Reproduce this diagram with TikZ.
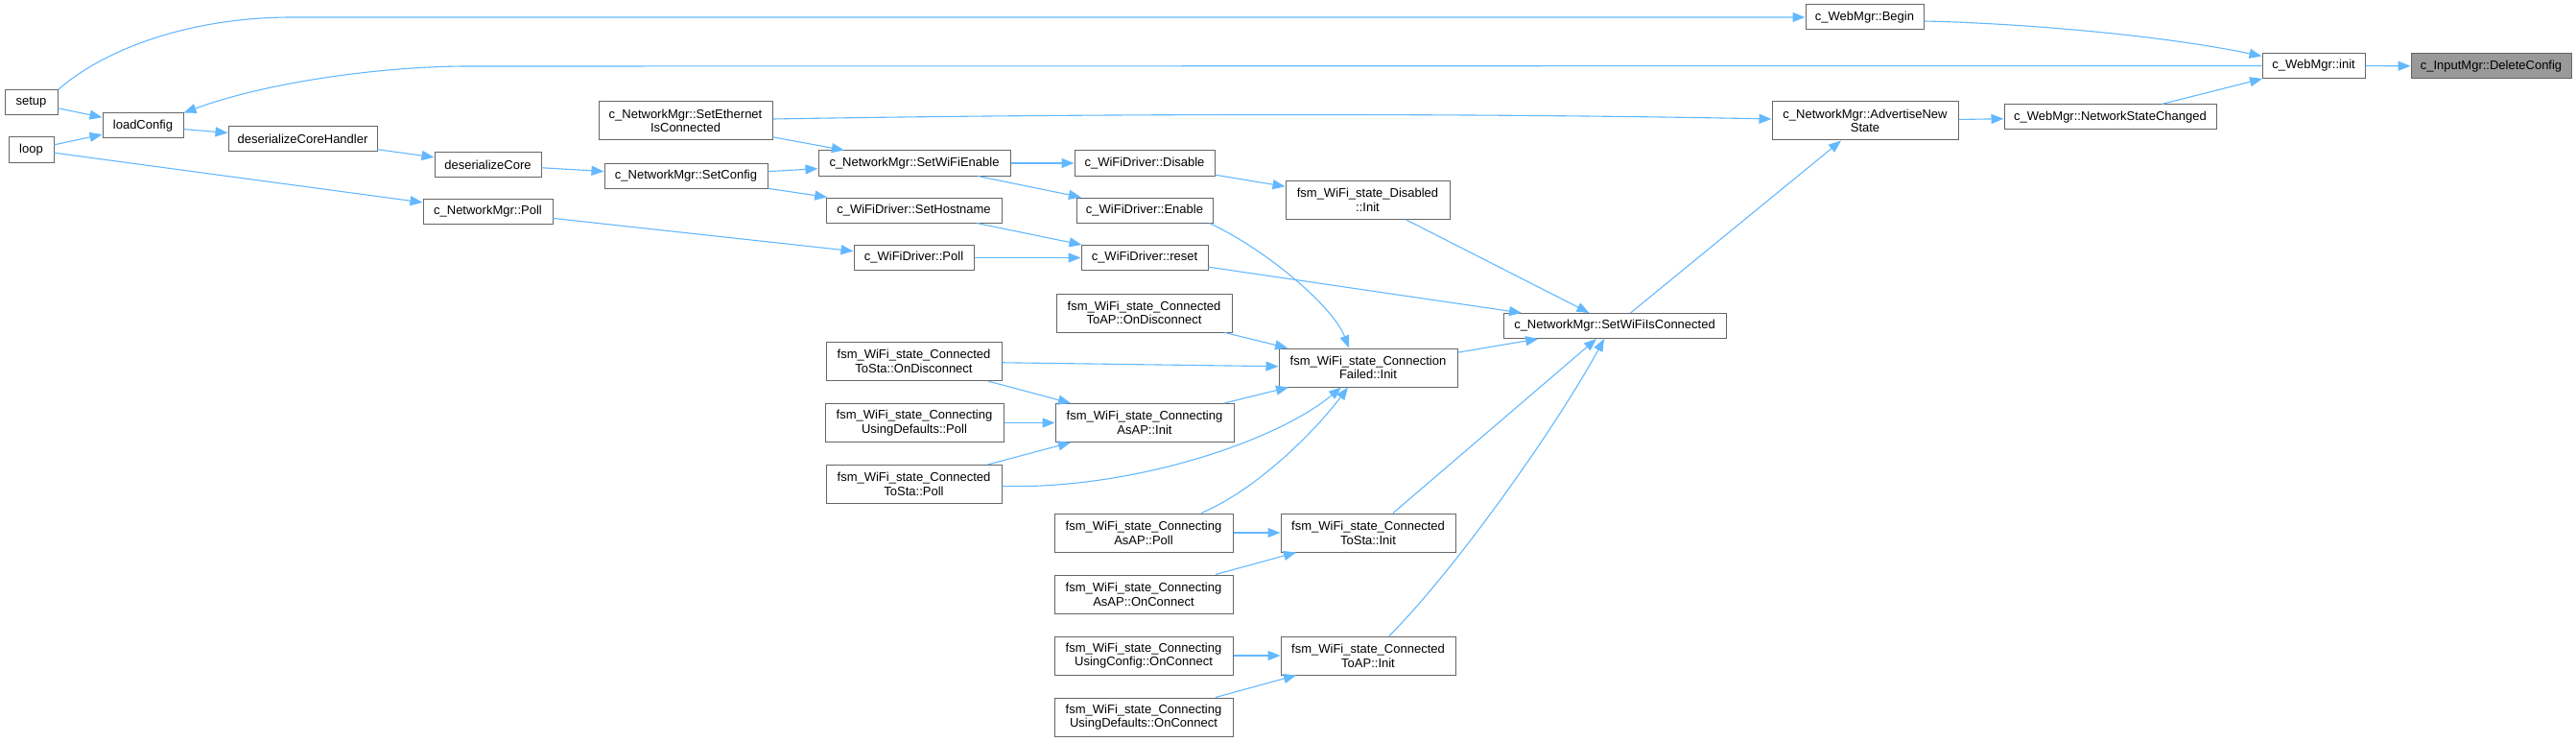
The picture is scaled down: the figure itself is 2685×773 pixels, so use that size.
\documentclass[tikz,border=0pt]{standalone}
\usepackage{fontspec}
\setmainfont{Liberation Sans}
\usetikzlibrary{arrows.meta}
\definecolor{edgeblue}{HTML}{63B8FF}
\definecolor{boxgray}{HTML}{666666}
\definecolor{rootfill}{HTML}{999999}
\tikzset{
  box/.style={draw=boxgray, fill=white, line width=1pt, inner sep=0pt, align=center,
    font=\fontsize{13}{14.7}\selectfont},
  one/.style={minimum height=26pt},
  two/.style={minimum height=40pt},
  conn/.style={draw=edgeblue, line width=1.1pt, -{Triangle[length=13pt,width=10pt]}},
}
\begin{document}
\begin{tikzpicture}[x=1pt,y=-1pt]
\useasboundingbox (0,0) rectangle (2685,773);
% nodes
\node[box,one,minimum width=55pt] (setup) at (32.5,107) {setup};
\node[box,one,minimum width=47pt] (loop) at (32.5,156) {loop};
\node[box,one,minimum width=84pt] (loadConfig) at (149,131) {loadConfig};
\node[box,one,minimum width=155pt] (dCH) at (315.5,145) {deserializeCoreHandler};
\node[box,one,minimum width=111pt] (dCore) at (508.5,171.5) {deserializeCore};
\node[box,one,minimum width=170pt] (SetConfig) at (715,183.5) {c\_NetworkMgr::SetConfig};
\node[box,two,minimum width=181pt] (SetEth) at (714.5,126) {c\_NetworkMgr::SetEthernet\\IsConnected};
\node[box,one,minimum width=135pt] (NMPoll) at (508.5,220) {c\_NetworkMgr::Poll};
\node[box,one,minimum width=200pt] (SetWiFiEnable) at (953,170) {c\_NetworkMgr::SetWiFiEnable};
\node[box,one,minimum width=146pt] (Disable) at (1193,170) {c\_WiFiDriver::Disable};
\node[box,one,minimum width=183pt] (SetHostname) at (952.5,219) {c\_WiFiDriver::SetHostname};
\node[box,one,minimum width=142pt] (Enable) at (1193,219) {c\_WiFiDriver::Enable};
\node[box,two,minimum width=171pt] (DisInit) at (1425.5,208.5) {fsm\_WiFi\_state\_Disabled\\::Init};
\node[box,one,minimum width=125pt] (WDPoll) at (952.5,268.5) {c\_WiFiDriver::Poll};
\node[box,one,minimum width=132pt] (reset) at (1193,268.5) {c\_WiFiDriver::reset};
\node[box,two,minimum width=183pt] (ToAPOnDis) at (1192.5,326) {fsm\_WiFi\_state\_Connected\\ToAP::OnDisconnect};
\node[box,two,minimum width=183pt] (ToStaOnDis) at (952.5,376.5) {fsm\_WiFi\_state\_Connected\\ToSta::OnDisconnect};
\node[box,two,minimum width=186pt] (CFInit) at (1426,383) {fsm\_WiFi\_state\_Connection\\Failed::Init};
\node[box,one,minimum width=232pt] (SWIC) at (1683,339.5) {c\_NetworkMgr::SetWiFiIsConnected};
\node[box,two,minimum width=186pt] (UDPoll) at (953,440.5) {fsm\_WiFi\_state\_Connecting\\UsingDefaults::Poll};
\node[box,two,minimum width=186pt] (AsAPInit) at (1193,440.5) {fsm\_WiFi\_state\_Connecting\\AsAP::Init};
\node[box,two,minimum width=183pt] (ToStaPoll) at (952.5,504.5) {fsm\_WiFi\_state\_Connected\\ToSta::Poll};
\node[box,two,minimum width=186pt] (AsAPPoll) at (1192,555) {fsm\_WiFi\_state\_Connecting\\AsAP::Poll};
\node[box,two,minimum width=182pt] (ToStaInit) at (1426,555) {fsm\_WiFi\_state\_Connected\\ToSta::Init};
\node[box,two,minimum width=186pt] (AsAPOnConn) at (1192,619) {fsm\_WiFi\_state\_Connecting\\AsAP::OnConnect};
\node[box,two,minimum width=186pt] (UCOnConn) at (1192,683) {fsm\_WiFi\_state\_Connecting\\UsingConfig::OnConnect};
\node[box,two,minimum width=182pt] (ToAPInit) at (1426,683) {fsm\_WiFi\_state\_Connected\\ToAP::Init};
\node[box,two,minimum width=186pt] (UDOnConn) at (1192,747) {fsm\_WiFi\_state\_Connecting\\UsingDefaults::OnConnect};
\node[box,two,minimum width=194pt] (Advertise) at (1944,126) {c\_NetworkMgr::AdvertiseNew\\State};
\node[box,one,minimum width=221pt] (NSC) at (2199.5,122) {c\_WebMgr::NetworkStateChanged};
\node[box,one,minimum width=123pt] (Begin) at (1943.5,18) {c\_WebMgr::Begin};
\node[box,one,minimum width=107pt] (init) at (2411.5,68.5) {c\_WebMgr::init};
\node[box,one,minimum width=167pt,fill=rootfill] (DeleteConfig) at (2596.5,69) {c\_InputMgr::DeleteConfig};
% edges
\draw[conn] (init) -- (DeleteConfig);
\draw[conn] ([yshift=-4pt]Begin.east) .. controls (2100,24) and (2250,36) .. ([yshift=10pt]init.west);
\draw[conn] (NSC) -- (init);
\draw[conn] (Advertise) -- (NSC);
\draw[conn] (init.west) -- (488,69) .. controls (400,69) and (280,85) .. (loadConfig.north east);
\draw[conn] (setup.north east) .. controls (110,50) and (200,18) .. (304,18) -- (Begin.west);
\draw[conn] (setup) -- (loadConfig);
\draw[conn] (loop) -- (loadConfig);
\draw[conn] (loop) -- (NMPoll);
\draw[conn] (loadConfig) -- (dCH);
\draw[conn] (dCH) -- (dCore);
\draw[conn] (dCore) -- (SetConfig);
\draw[conn] (SetConfig) -- (SetWiFiEnable);
\draw[conn] (SetConfig) -- (SetHostname);
\draw[conn] (SetEth) -- (SetWiFiEnable);
\draw[conn] ([yshift=2pt]SetEth.east) .. controls (1150,118) and (1550,118) .. ([yshift=2pt]Advertise.west);
\draw[conn] (SetWiFiEnable) -- (Disable);
\draw[conn] (SetWiFiEnable) -- (Enable);
\draw[conn] (Disable) -- (DisInit);
\draw[conn] (SetHostname) -- (reset);
\draw[conn] (NMPoll) -- (WDPoll);
\draw[conn] (WDPoll) -- (reset);
\draw[conn] ([xshift=-4pt]Enable.south east) .. controls (1320,260) and (1390,320) .. ([xshift=-20pt]CFInit.north);
\draw[conn] (DisInit) -- (SWIC);
\draw[conn] (reset) -- ([xshift=-97pt]SWIC.north);
\draw[conn] (SWIC) -- (Advertise);
\draw[conn] (ToAPOnDis) -- (CFInit);
\draw[conn] (ToStaOnDis) -- (CFInit);
\draw[conn] (ToStaOnDis) -- (AsAPInit);
\draw[conn] (UDPoll) -- (AsAPInit);
\draw[conn] (ToStaPoll) -- (AsAPInit);
\draw[conn] (AsAPInit) -- (CFInit);
\draw[conn] ([yshift=-2pt]ToStaPoll.east) .. controls (1180,510) and (1330,460) .. ([xshift=-28pt]CFInit.south);
\draw[conn] ([xshift=60pt]AsAPPoll.north) .. controls (1310,510) and (1370,450) .. ([xshift=-21pt]CFInit.south);
\draw[conn] (CFInit) -- (SWIC);
\draw[conn] (AsAPPoll) -- (ToStaInit);
\draw[conn] (AsAPOnConn) -- (ToStaInit);
\draw[conn] ([xshift=26pt]ToStaInit.north) -- ([xshift=-19pt]SWIC.south);
\draw[conn] (UCOnConn) -- (ToAPInit);
\draw[conn] (UDOnConn) -- (ToAPInit);
\draw[conn] ([xshift=22pt]ToAPInit.north) .. controls (1520,590) and (1625,440) .. ([xshift=-11pt]SWIC.south);
\end{tikzpicture}
\end{document}
